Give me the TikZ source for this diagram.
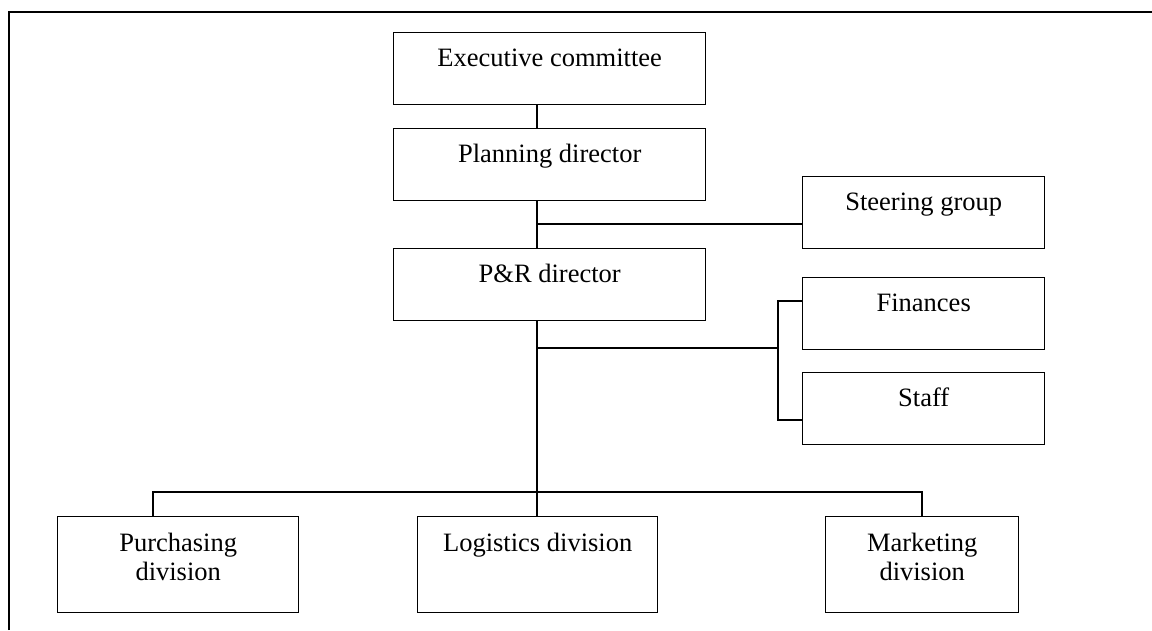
\documentclass[tikz,border=0pt]{standalone}
\usepackage{fontspec}
\setmainfont{Liberation Serif}
\begin{document}
\begin{tikzpicture}[x=1pt,y=-1pt,
  frame/.style={line width=2pt},
  unit/.style={draw, line width=1.4pt, inner sep=0pt, anchor=north west},
  lbl/.style={anchor=base, inner sep=0pt, align=center,
    font=\fontsize{26.5}{28.5}\selectfont},
  link/.style={line width=1.4pt}]
\useasboundingbox (0,0) rectangle (1152,630);

% open frame (left and top edges)
\draw[frame] (9,630) -- (9,12) -- (1152,12);

% upper chain
\node[unit, minimum width=312pt, minimum height=72pt] (exec) at (393,32) {};
\node[unit, minimum width=312pt, minimum height=72pt] (plan) at (393,128) {};
\node[unit, minimum width=312pt, minimum height=72pt] (pr)   at (393,248) {};

% staff units on the right
\node[unit, minimum width=242pt, minimum height=72pt] (steer) at (802,176) {};
\node[unit, minimum width=242pt, minimum height=72pt] (fin)   at (802,277) {};
\node[unit, minimum width=242pt, minimum height=72pt] (stf)   at (802,372) {};

% divisions
\node[unit, minimum width=241pt, minimum height=96pt] (purch) at (57,516) {};
\node[unit, minimum width=240pt, minimum height=96pt] (logi)  at (417,516) {};
\node[unit, minimum width=193pt, minimum height=96pt] (mark)  at (825,516) {};

% labels (base anchor sits on the last line of a two-line label)
\node[lbl] (execT)  at ([yshift=-34pt]exec.north)  {Executive committee};
\node[lbl] (planT)  at ([yshift=-34pt]plan.north)  {Planning director};
\node[lbl] (prT)    at ([yshift=-34pt]pr.north)    {P\&R director};
\node[lbl] (steerT) at ([yshift=-34pt]steer.north) {Steering group};
\node[lbl] (finT)   at ([yshift=-34pt]fin.north)   {Finances};
\node[lbl] (stfT)   at ([yshift=-34pt]stf.north)   {Staff};
\node[lbl] (purchT) at ([yshift=-64pt]purch.north) {Purchasing\\division};
\node[lbl] (logiT)  at ([yshift=-35pt]logi.north)  {Logistics division};
\node[lbl] (markT)  at ([yshift=-64pt]mark.north)  {Marketing\\division};

% junction points
\coordinate (tx) at (537,0);
\coordinate (sj) at (537,224);
\coordinate (fj) at (537,348);
\coordinate (bx) at (778,348);
\coordinate (ft) at (778,301);
\coordinate (st) at (778,420);
\coordinate (pd) at (153,492);
\coordinate (md) at (922,492);

% connectors
\draw[link] (exec.south -| tx) -- (plan.north -| tx);
\draw[link] (plan.south -| tx) -- (pr.north -| tx);
\draw[link] (sj) -- (sj -| steer.west);
\draw[link] (pr.south -| tx) -- (logi.north -| tx);
\draw[link] (fj) -- (bx);
\draw[link] (ft -| fin.west) -- (ft) -- (st) -- (st -| stf.west);
\draw[link] (purch.north -| pd) -- (pd) -- (md) -- (mark.north -| md);
\end{tikzpicture}
\end{document}
